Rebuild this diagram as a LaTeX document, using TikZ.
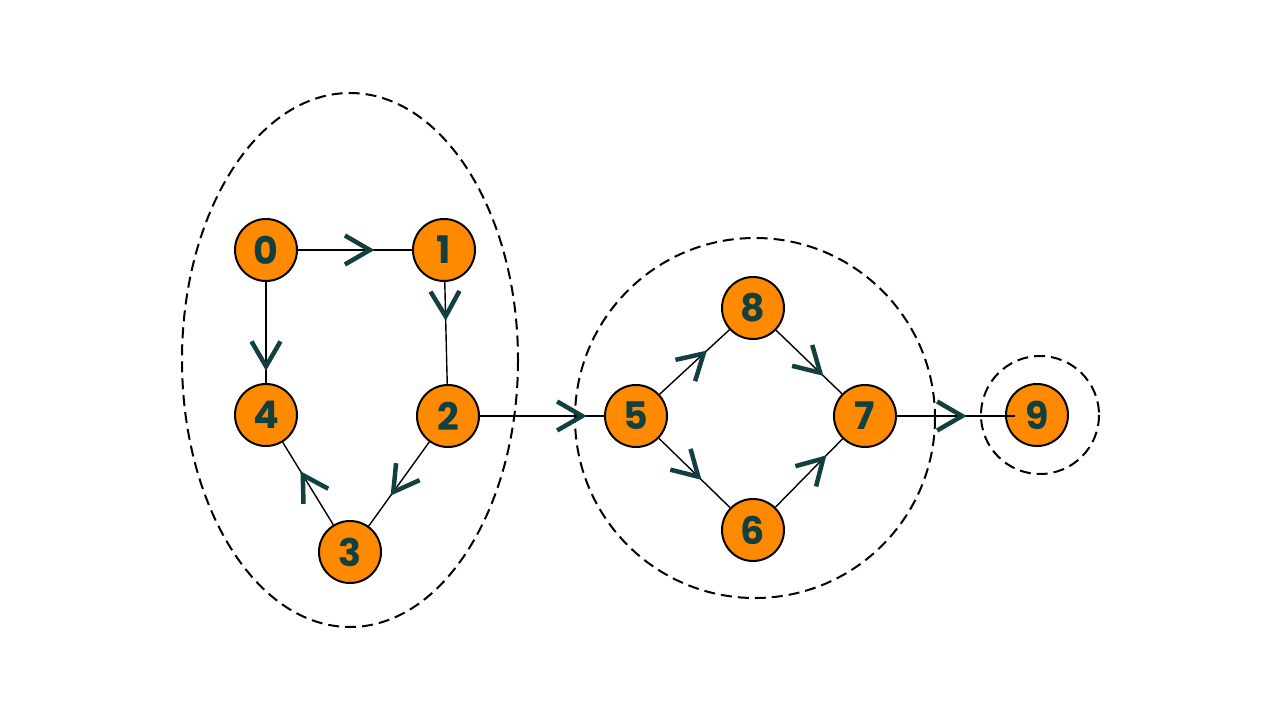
\documentclass[tikz,border=0pt]{standalone}
\usepackage{fontspec}
\setsansfont{Poppins}
\usetikzlibrary{arrows.meta,decorations.markings}
\definecolor{nodeorange}{HTML}{FF8A00}
\definecolor{darkteal}{HTML}{123F3F}
\tikzset{
  vert/.style={circle,draw=black,line width=2pt,fill=nodeorange,minimum size=62pt,inner sep=0pt,
    font=\sffamily\bfseries\fontsize{38}{38}\selectfont,text=darkteal},
  link/.style={draw=black,line width=1.4pt},
  midarrow/.style={postaction={decorate,decoration={markings,
    mark=at position #1 with {\arrow[darkteal,line width=4.5pt]{Straight Barb[length=25pt,width=29pt]}}}}},
  group/.style={draw=black,line width=2pt,dash pattern=on 11pt off 6pt}
}
\begin{document}
\begin{tikzpicture}[x=1pt,y=-1pt]
\useasboundingbox (0,0) rectangle (1280,720);
\draw[group] (350,360) ellipse [x radius=168, y radius=267];
\draw[group] (755,418) ellipse [x radius=180, y radius=180];
\draw[group] (1040,415) circle [radius=59];
\node[vert] (n0) at (266,250) {0};
\node[vert] (n1) at (444,250) {1};
\node[vert] (n4) at (266,415) {4};
\node[vert] (n2) at (448,416) {2};
\node[vert] (n3) at (350,552) {3};
\node[vert] (n5) at (636,416) {5};
\node[vert] (n8) at (753,308) {8};
\node[vert] (n7) at (865,416) {7};
\node[vert] (n6) at (753,530) {6};
\node[vert] (n9) at (1037,415) {9};
\coordinate (e9) at (1015,416);
\draw[link,midarrow=0.67] (n0) -- (n1);
\draw[link,midarrow=0.38] (n1) -- (n2);
\draw[link,midarrow=0.88] (n0) -- (n4);
\draw[link,midarrow=0.64] (n2) -- (n3);
\draw[link,midarrow=0.65] (n3) -- (n4);
\draw[link,midarrow=0.86] (n2) -- (n5);
\draw[link,midarrow=0.68] (n5) -- (n8);
\draw[link,midarrow=0.72] (n8) -- (n7);
\draw[link,midarrow=0.60] (n5) -- (n6);
\draw[link,midarrow=0.76] (n6) -- (n7);
\draw[link,midarrow=0.59] (n7) -- (e9);
\end{tikzpicture}
\end{document}
